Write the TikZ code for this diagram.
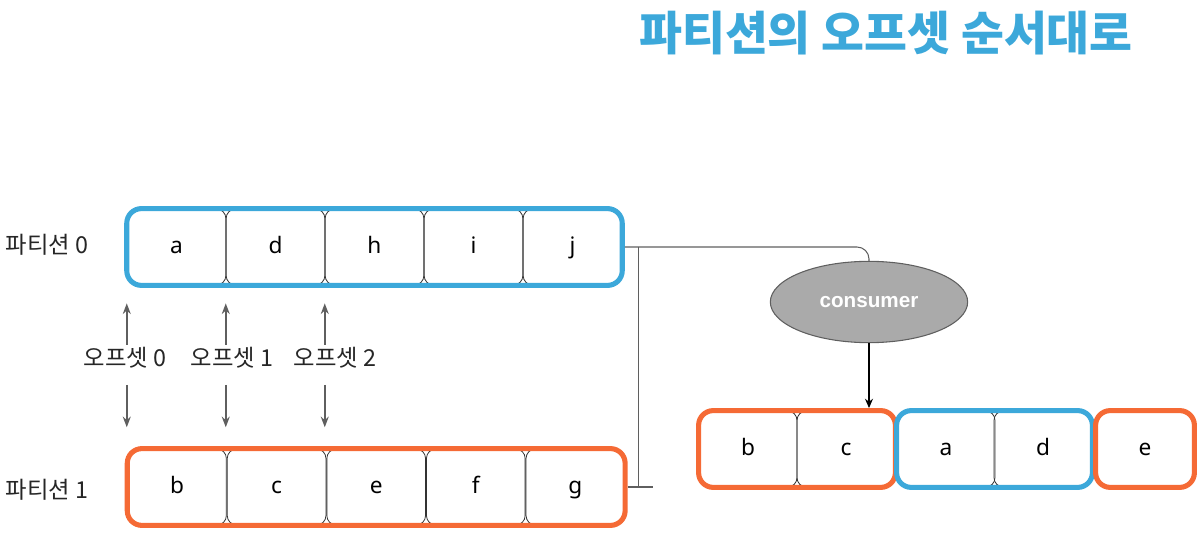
\documentclass[tikz,border=0pt]{standalone}
\usepackage{fontspec}
\usepackage{xcolor}
\usetikzlibrary{fit,arrows.meta,shapes.geometric}
\setmainfont{Noto Sans}
\newfontfamily\kr{Noto Sans CJK KR}
\newfontfamily\consfont{Liberation Sans}
\definecolor{pblue}{RGB}{60,168,218}
\definecolor{porange}{RGB}{245,106,53}
\definecolor{cgray}{RGB}{170,170,170}
\definecolor{agray}{RGB}{95,95,95}

\begin{document}
\begin{tikzpicture}[x=0.75pt,y=0.75pt,yscale=-1,xscale=1,
  cell/.style={draw=black!80, line width=0.6pt, rounded corners=7pt, minimum width=74pt, minimum height=57pt, inner sep=0pt, text height=12pt, text depth=2.5pt, font=\fontsize{17}{20}\selectfont},
  outcell/.style={cell, minimum width=73.5pt},
  grp/.style={draw, line width=3.8pt, rounded corners=11pt, inner sep=0pt},
  klabel/.style={inner sep=0pt, text=black!85, font=\fontsize{17.5}{20}\kr},
  offarrow/.style={draw=agray, line width=1.1pt, -{Stealth[length=8pt,width=6pt]}}
]
\useasboundingbox (0,0) rectangle (1204,538);

% Text Node
\node [font=\fontsize{35}{40}\kr\bfseries, text=pblue] (title) at (886,33) {파티션의 오프셋 순서대로};

%Shape: partition 0
\foreach \l [count=\i from 0] in {a,d,h,i,j}
  \node [cell] (t\i) at (176.5+99*\i,247) {\l};
\node [grp, draw=pblue, fit=(t0)(t4)] (row0) {};
%Shape: partition 1
\foreach \l [count=\i from 0] in {b,c,e,f,g}
  \node [cell] (b\i) at (177+99.6*\i,487) {\l};
\node [grp, draw=porange, fit=(b0)(b4)] (row1) {};

% Text Node
\node [klabel] (p0) at (47,245) {파티션 0};
\node [klabel] (p1) at (47,490) {파티션 1};

% offsets
\foreach \x [count=\i from 0] in {125,232,335} {
  \node [klabel] (off\i) at (\x,358) {오프셋 \i};
  \draw [offarrow, shorten <=2pt, shorten >=13.5pt] (t\i.west |- off\i.north) -- (t\i.south west);
  \draw [offarrow, shorten <=12pt, shorten >=16pt] (t\i.west |- off\i.south) -- (t\i.west |- b\i.north);
}

%Shape: Ellipse
\node [ellipse, draw=agray, line width=0.8pt, fill=cgray, minimum width=148pt, minimum height=61pt, text=white, font=\fontsize{15.5}{18}\consfont\bfseries] (cons) at (869,302) {consumer};

%Shape: output
\node [outcell] (o1) at (748,449) {b};
\node [outcell] (o2) at (846,449) {c};
\node [outcell] (o3) at (946,449) {a};
\node [outcell] (o4) at (1043,449) {d};
\node [outcell] (o5) at (1145,449) {e};
\node [grp, draw=porange, fit=(o1)(o2)] (g1) {};
\node [grp, draw=pblue, fit=(o3)(o4)] (g2) {};
\node [grp, draw=porange, fit=(o5)] (g3) {};

% connectors
\coordinate (brt) at ([xshift=10pt]row0.east);
\coordinate (brb) at (brt |- row1.east);
\draw [draw=agray, line width=0.8pt, rounded corners=9pt] (row0.east) -- (row0.east -| cons.north) -- (cons.north);
\draw [draw=agray, line width=0.8pt] (brt) -- (brb);
\draw [draw=agray, line width=0.8pt] (row1.east) -- ++(25,0);
\draw [line width=0.9pt, -{Stealth[length=7pt,width=6pt]}] (cons.south) -- (cons.south |- g1.north);

\end{tikzpicture}
\end{document}
